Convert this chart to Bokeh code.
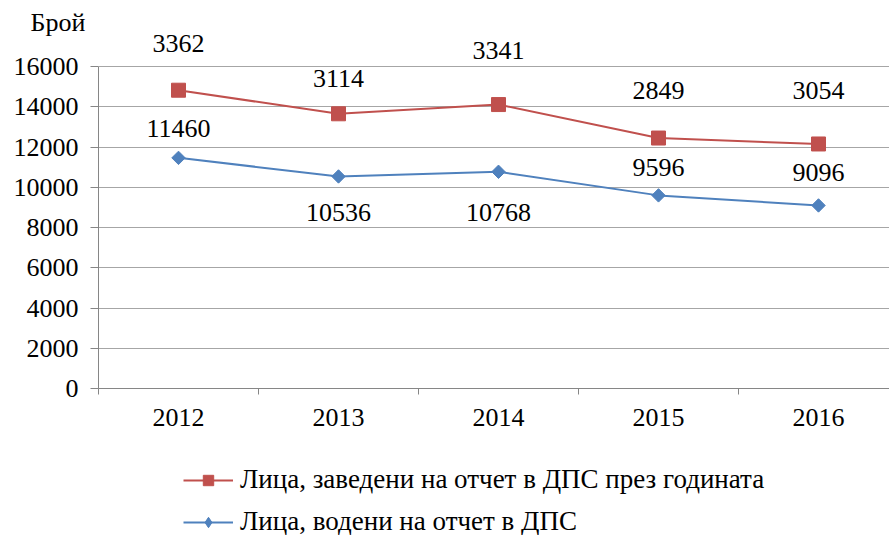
import numpy as np
from bokeh.plotting import figure
from bokeh.layouts import column
from bokeh.models import (ColumnDataSource, FixedTicker, LabelSet, Legend, LegendItem, Title)
from bokeh.embed import file_html
from bokeh.resources import INLINE

years = [2012, 2013, 2014, 2015, 2016]
year_labels = ["2012", "2013", "2014", "2015", "2016"]
kept = [11460, 10536, 10768, 9596, 9096]          # Лица, водени на отчет в ДПС
registered = [3362, 3114, 3341, 2849, 3054]       # Лица, заведени на отчет в ДПС през годината
y_ticks = [0, 2000, 4000, 6000, 8000, 10000, 12000, 14000, 16000]

# layout: manual label offsets (pixels, positive = up) as in the original
red_label_dy = [47, 35, 54, 48, 53]
blue_label_dy = [29, -36, -41, 28, 33]

RED = "#C0504D"
BLUE = "#4F81BD"
AXIS = "#868686"
FONT = "Liberation Serif"
FS = "26px"

stacked = [k + r for k, r in zip(kept, registered)]

src = ColumnDataSource(dict(
    x=years,
    kept=kept,
    top=stacked,
    kept_txt=[str(v) for v in kept],
    reg_txt=[str(v) for v in registered],
    red_dy=red_label_dy,
    blue_dy=blue_label_dy,
))

Y_MAX = 16000
HEAD = 33                              # px of headroom above the 16000 line
Y_TOP = Y_MAX + HEAD * Y_MAX / 322.0

p = figure(frame_width=791, frame_height=322 + HEAD, output_backend="svg", toolbar_location=None,
           x_range=(2011.5, 2011.5 + 791 / 160.0), y_range=(0, Y_TOP),
           min_border_left=98, min_border_top=66 - HEAD, min_border_right=0, min_border_bottom=50)
p.outline_line_color = None
p.background_fill_color = "white"
p.border_fill_color = "white"

p.add_layout(Title(text="Брой", align="left", offset=-68, standoff=-6, vertical_align="bottom",
                   text_font=FONT, text_font_size=FS, text_font_style="normal",
                   text_color="black"), "above")

# y axis
p.yaxis.ticker = FixedTicker(ticks=y_ticks)
p.yaxis.bounds = (0, Y_MAX)
p.yaxis.axis_line_color = AXIS
p.yaxis.major_tick_line_color = AXIS
p.yaxis.major_tick_out = 8
p.yaxis.major_tick_in = 0
p.yaxis.minor_tick_line_color = None
p.yaxis.major_label_text_font = FONT
p.yaxis.major_label_text_font_size = FS
p.yaxis.major_label_text_color = "black"
p.yaxis.major_label_standoff = 12

# x axis
p.xaxis.ticker = FixedTicker(ticks=years, minor_ticks=[y - 0.5 for y in years])
p.xaxis.major_label_overrides = {y: l for y, l in zip(years, year_labels)}
p.xaxis.axis_line_color = AXIS
p.xaxis.major_tick_line_color = None
p.xaxis.major_tick_out = 6
p.xaxis.minor_tick_line_color = AXIS
p.xaxis.minor_tick_out = 6
p.xaxis.minor_tick_in = 0
p.xaxis.major_label_text_font = FONT
p.xaxis.major_label_text_font_size = FS
p.xaxis.major_label_text_color = "black"
p.xaxis.major_label_standoff = 14

p.xgrid.grid_line_color = None
p.ygrid.ticker = FixedTicker(ticks=y_ticks)
p.ygrid.grid_line_color = "#A6A6A6"
p.ygrid.grid_line_width = 1

p.line("x", "top", source=src, line_color=RED, line_width=2)
p.scatter("x", "top", source=src, marker="square", size=14, fill_color=RED, line_color=RED)
p.line("x", "kept", source=src, line_color=BLUE, line_width=2)
p.scatter("x", "kept", source=src, marker="square", angle=np.pi / 4, size=9.5,
          fill_color=BLUE, line_color=BLUE)

p.add_layout(LabelSet(x="x", y="top", text="reg_txt", source=src, y_offset="red_dy",
                      text_align="center", text_baseline="middle",
                      text_font=FONT, text_font_size=FS, text_color="black"))
p.add_layout(LabelSet(x="x", y="kept", text="kept_txt", source=src, y_offset="blue_dy",
                      text_align="center", text_baseline="middle",
                      text_font=FONT, text_font_size=FS, text_color="black"))

# legend in its own strip below the chart
lg = figure(width=889, height=97, output_backend="svg", toolbar_location=None,
            x_range=(0, 1), y_range=(0, 1), x_axis_type=None, y_axis_type=None,
            min_border=0)
lg.outline_line_color = None
lg.xgrid.grid_line_color = None
lg.ygrid.grid_line_color = None
r_line = lg.line([-5, -4], [-5, -4], line_color=RED, line_width=2)
r_mark = lg.scatter([-5], [-5], marker="square", size=14, fill_color=RED, line_color=RED)
b_line = lg.line([-5, -4], [-5, -4], line_color=BLUE, line_width=2)
b_mark = lg.scatter([-5], [-5], marker="diamond", size=14,
                    fill_color=BLUE, line_color=BLUE)
legend = Legend(items=[
    LegendItem(label="Лица, заведени на отчет в ДПС през годината", renderers=[r_line, r_mark]),
    LegendItem(label="Лица, водени на отчет в ДПС", renderers=[b_line, b_mark]),
], location=(85, -2), orientation="vertical", border_line_color=None,
    background_fill_alpha=0, label_text_font=FONT, label_text_font_size="27px",
    label_text_color="black", glyph_width=50, glyph_height=26, label_height=26,
    spacing=11, padding=0, margin=0, label_standoff=7)
lg.add_layout(legend)

layout = column(p, lg, spacing=0)
open("out.html", "w").write(file_html(layout, INLINE))
